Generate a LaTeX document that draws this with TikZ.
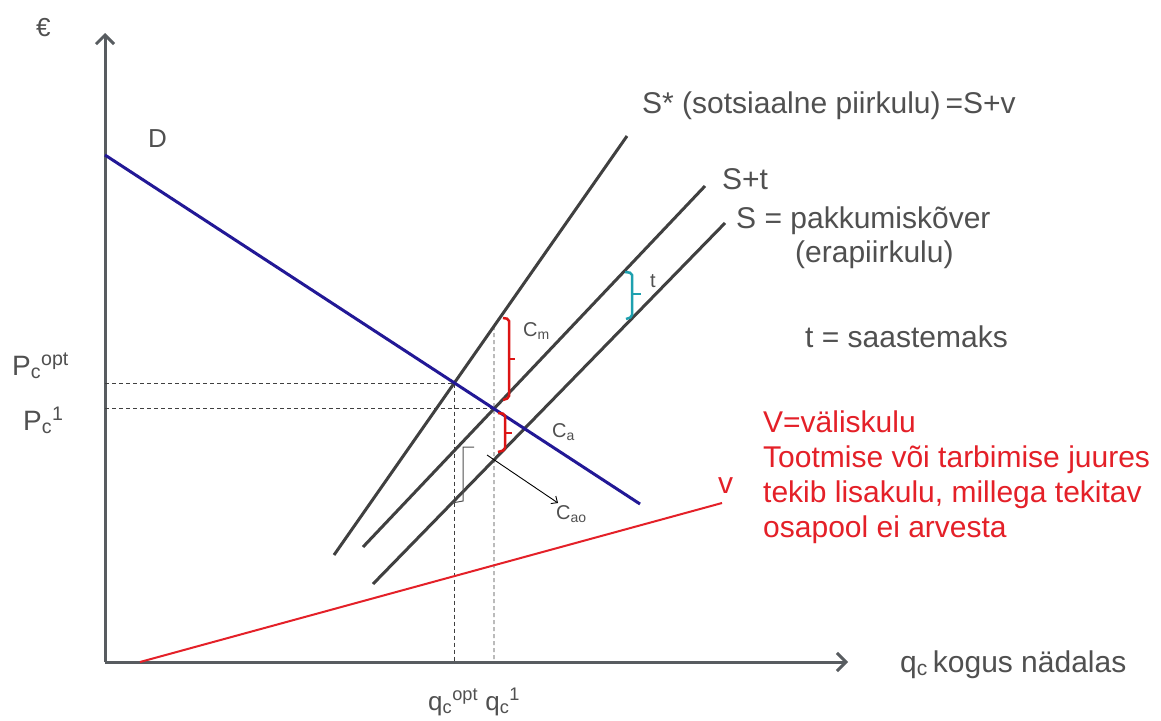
\documentclass[tikz,border=0pt]{standalone}
\usepackage{fontspec}
\setmainfont{Liberation Sans}
\usetikzlibrary{arrows.meta}
\definecolor{axisgray}{RGB}{88,92,96}
\definecolor{linegray}{RGB}{64,64,64}
\definecolor{txtgray}{RGB}{80,80,80}
\definecolor{dblue}{RGB}{34,24,150}
\definecolor{vred}{RGB}{228,32,40}
\definecolor{bred}{RGB}{220,20,20}
\definecolor{tcyan}{RGB}{30,160,175}
\tikzset{
  axisline/.style={draw=axisgray, line width=3pt, -{Straight Barb[length=9pt,width=18pt]}},
  supply/.style={draw=linegray, line width=3pt},
  demand/.style={draw=dblue, line width=3pt},
  extline/.style={draw=vred, line width=2pt},
  guide/.style={draw=linegray, line width=0.8pt, dash pattern=on 4pt off 3pt},
  redbrace/.style={draw=bred, line width=2.5pt, rounded corners=2pt},
  cyanbrace/.style={draw=tcyan, line width=2.5pt, rounded corners=2pt},
  graybrace/.style={draw=txtgray, line width=1pt},
  lbl/.style={text=txtgray, font=\fontsize{30}{36}\selectfont, inner sep=0pt, anchor=base west},
  biglbl/.style={text=txtgray, font=\fontsize{28}{32}\selectfont, inner sep=0pt, anchor=base west},
  qlbl/.style={text=txtgray, font=\fontsize{26}{30}\selectfont, inner sep=0pt, anchor=base west},
  smalllbl/.style={text=txtgray, font=\fontsize{20}{24}\selectfont, inner sep=0pt, anchor=base west},
  redtxt/.style={text=vred, font=\fontsize{30}{35}\selectfont, inner sep=0pt, anchor=base west},
}
\begin{document}
\begin{tikzpicture}[x=1pt,y=-1pt]
\useasboundingbox[fill=white] (0,0) rectangle (1161,720);
% axes
\coordinate (O) at (105,662);
\coordinate (Ytip) at (105,33);
\coordinate (Xtip) at (848,662);
\draw[axisline] (O) -- (Ytip);
\draw[axisline] (O) -- (Xtip);
% curve end points
\coordinate (D1) at (105,155);
\coordinate (D2) at (640,504);
\coordinate (Ss1) at (334,555);
\coordinate (Ss2) at (627,136);
\coordinate (St1) at (363,547);
\coordinate (St2) at (705,186);
\coordinate (S1) at (373,584);
\coordinate (S2) at (725,223);
\coordinate (V1) at (140,662);
\coordinate (V2) at (722,503);
% equilibria
\coordinate (Eopt) at (intersection of D1--D2 and Ss1--Ss2);
\coordinate (E1) at (intersection of D1--D2 and St1--St2);
\coordinate (E1b) at (E1 |- O);
\coordinate (E1top) at (intersection of E1--E1b and Ss1--Ss2);
% guide lines
\draw[guide] (Eopt -| O) -- (Eopt) -- (Eopt |- O);
\draw[guide] (E1 -| O) -- (E1);
\draw[guide] (E1top) -- (E1b);
% curves
\draw[supply] (Ss1) -- (Ss2);
\draw[supply] (St1) -- (St2);
\draw[supply] (S1) -- (S2);
\draw[extline] (V1) -- (V2);
\draw[demand] (D1) -- (D2);
% braces
\draw[redbrace] (503,318) -- (509,319) -- (509,398) -- (503,400);
\draw[redbrace] (509,359) -- (515,359);
\draw[redbrace] (498,413) -- (505,414) -- (505,450) -- (498,452);
\draw[redbrace] (505,433) -- (512,433);
\draw[cyanbrace] (625,272) -- (632,273) -- (632,317) -- (626,319);
\draw[cyanbrace] (632,294) -- (641,294);
\draw[graybrace] (474,447) -- (463,447) -- (463,501) -- (452,503);
% C_ao arrow
\coordinate (Aa) at (487,455);
\coordinate (Ab) at (558,503);
\draw[draw=black, line width=0.9pt, -{Straight Barb[length=5pt,width=9pt]}] (Aa) -- (Ab);
% labels
\node[qlbl] (euro) at (36,36) {€};
\node[qlbl] (dlab) at (148,147) {D};
\node[lbl] (sstar) at (642,113) {S* (sotsiaalne piirkulu)\,=S+v};
\node[lbl] (stlab) at (722,189) {S+t};
\node[lbl] (slab) at (736,228) {S = pakkumiskõver};
\node[lbl] (eralab) at (795,262) {(erapiirkulu)};
\node[lbl] (tdef) at (805,347) {t = saastemaks};
\node[smalllbl] (tlab) at (650,287) {t};
\node[smalllbl] (cm) at (523,336) {C\textsubscript{m}};
\node[smalllbl] (ca) at (552,437) {C\textsubscript{a}};
\node[smalllbl] (cao) at (556,519) {C\textsubscript{ao}};
\node[biglbl] (popt) at (12,375) {P\textsubscript{c}\textsuperscript{opt}};
\node[biglbl] (p1) at (23,430) {P\textsubscript{c}\textsuperscript{1}};
\node[qlbl] (qopt) at (428,710) {q\textsubscript{c}\textsuperscript{opt} q\textsubscript{c}\textsuperscript{1}};
\node[lbl] (qlab) at (900,672) {q\textsubscript{c}\,kogus nädalas};
\node[redtxt] (vlab) at (718,493) {v};
\node[redtxt] (r1) at (763,432) {V=väliskulu};
\node[redtxt] (r2) at (763,467) {Tootmise või tarbimise juures};
\node[redtxt] (r3) at (763,502) {tekib lisakulu, millega tekitav};
\node[redtxt] (r4) at (763,537) {osapool ei arvesta};
\end{tikzpicture}
\end{document}
